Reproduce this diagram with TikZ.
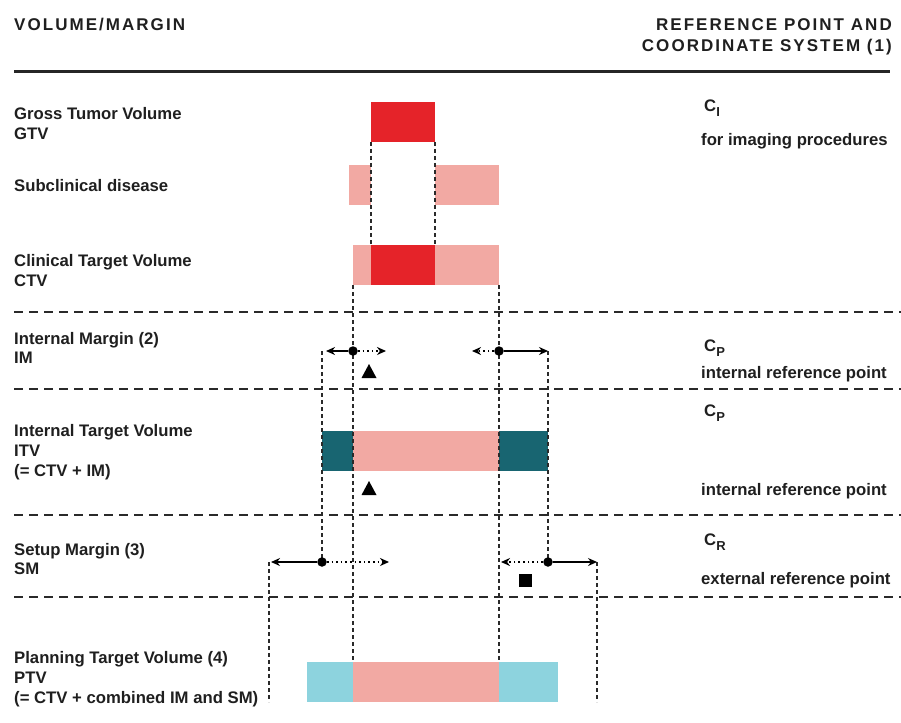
\documentclass[tikz,border=0pt]{standalone}
\usepackage{fontspec}
\setmainfont{Liberation Sans}
\newfontfamily\hdrfont{Liberation Sans}[LetterSpace=12]
\usetikzlibrary{arrows.meta}
\definecolor{tred}{HTML}{E52329}
\definecolor{tpink}{HTML}{F2A9A3}
\definecolor{tteal}{HTML}{186571}
\definecolor{tcyan}{HTML}{8DD3DE}
\definecolor{tline}{HTML}{2A2A2A}
\tikzset{
  lbl/.style={anchor=base west, inner sep=0pt, text=black!88, font=\fontsize{16.7}{19}\selectfont\bfseries},
  hdr/.style={inner sep=0pt, text=black!88, font=\hdrfont\fontsize{17}{19}\selectfont\bfseries},
  sepline/.style={draw=tline, line width=1.3pt, dash pattern=on 9pt off 6pt},
  vline/.style={draw=tline, line width=1.1pt, dash pattern=on 4pt off 3pt},
  solidarr/.style={draw=black, line width=1.4pt, -{Stealth[length=9pt,width=8pt]}},
  dotarr/.style={draw=black, line width=1.6pt, dash pattern=on 1.6pt off 3pt, -{Stealth[length=9pt,width=8pt]}},
  refdot/.style={circle, fill=black, inner sep=0pt, minimum size=9.5pt},
}
\newcommand{\csub}[1]{C\raisebox{-5pt}{\fontsize{13}{13}\selectfont #1}}
\begin{document}
\begin{tikzpicture}[x=1pt,y=-1pt]
\useasboundingbox (0,0) rectangle (901,722);
\fill[white] (0,0) rectangle (901,722);

% header
\node[hdr, anchor=base west] (hL) at (14,31) {VOLUME/MARGIN};
\node[hdr, anchor=base east] (hR1) at (892,31) {REFERENCE POINT AND};
\node[hdr, anchor=base east] (hR2) at (892,52) {COORDINATE SYSTEM (1)};
\draw[line width=3pt, black!85] (14,72) -- (890,72);

% separators
\foreach \yy in {312,389,515,597} \draw[sepline] (14,\yy) -- (901,\yy);

% left labels
\node[lbl] (l1a) at (14,120) {Gross Tumor Volume};
\node[lbl] (l1b) at (14,140) {GTV};
\node[lbl] (l2) at (14,191) {Subclinical disease};
\node[lbl] (l3a) at (14,266) {Clinical Target Volume};
\node[lbl] (l3b) at (14,286) {CTV};
\node[lbl] (l4a) at (14,344) {Internal Margin (2)};
\node[lbl] (l4b) at (14,363) {IM};
\node[lbl] (l5a) at (14,436) {Internal Target Volume};
\node[lbl] (l5b) at (14,456) {ITV};
\node[lbl] (l5c) at (14,476) {(= CTV + IM)};
\node[lbl] (l6a) at (14,555) {Setup Margin (3)};
\node[lbl] (l6b) at (14,574) {SM};
\node[lbl] (l7a) at (14,663) {Planning Target Volume (4)};
\node[lbl] (l7b) at (14,683) {PTV};
\node[lbl] (l7c) at (14,703) {(= CTV + combined IM and SM)};

% right labels
\node[lbl] (r1a) at (704,112) {\csub{I}};
\node[lbl] (r1b) at (701,146) {for imaging procedures};
\node[lbl] (r2a) at (704,351) {\csub{P}};
\node[lbl] (r2b) at (701,378) {internal reference point};
\node[lbl] (r3a) at (704,416) {\csub{P}};
\node[lbl] (r3b) at (701,495) {internal reference point};
\node[lbl] (r4a) at (704,545) {\csub{R}};
\node[lbl] (r4b) at (701,584) {external reference point};

% GTV
\fill[tred] (371,102) rectangle (435,142);
% subclinical
\fill[tpink] (349,165) rectangle (371,205);
\fill[tpink] (435,165) rectangle (499,205);
% CTV
\fill[tpink] (353,245) rectangle (499,285);
\fill[tred] (371,245) rectangle (435,285);
% ITV
\fill[tteal] (322,431) rectangle (353,471);
\fill[tpink] (353,431) rectangle (499,471);
\fill[tteal] (499,431) rectangle (548,471);
% PTV
\fill[tcyan] (307,662) rectangle (353,702);
\fill[tpink] (353,662) rectangle (499,702);
\fill[tcyan] (499,662) rectangle (558,702);

% vertical guide lines
\draw[vline] (371,142) -- (371,245);
\draw[vline] (435,142) -- (435,245);
\draw[vline] (353,285) -- (353,662);
\draw[vline] (499,285) -- (499,662);
\draw[vline] (322,351) -- (322,562);
\draw[vline] (548,351) -- (548,562);
\draw[vline] (269,562) -- (269,702);
\draw[vline] (597,562) -- (597,702);

% IM arrows
\node[refdot] (imL) at (353,351) {};
\node[refdot] (imR) at (499,351) {};
\coordinate (imLs) at (326,351);
\coordinate (imLd) at (386,351);
\coordinate (imRd) at (472,351);
\coordinate (imRs) at (548,351);
\draw[solidarr] (imL) -- (imLs);
\draw[dotarr] (imL) -- (imLd);
\draw[dotarr] (imR) -- (imRd);
\draw[solidarr] (imR) -- (imRs);

% SM arrows
\node[refdot] (smL) at (322,562) {};
\node[refdot] (smR) at (548,562) {};
\coordinate (smLs) at (271,562);
\coordinate (smLd) at (389,562);
\coordinate (smRd) at (501,562);
\coordinate (smRs) at (597,562);
\draw[solidarr] (smL) -- (smLs);
\draw[dotarr] (smL) -- (smLd);
\draw[dotarr] (smR) -- (smRd);
\draw[solidarr] (smR) -- (smRs);

% markers
\fill[black] (361.5,378) -- (376.5,378) -- (369,364) -- cycle;
\fill[black] (361.5,495) -- (376.5,495) -- (369,481) -- cycle;
\fill[black] (518.5,573.5) rectangle (532,587);
\end{tikzpicture}
\end{document}
